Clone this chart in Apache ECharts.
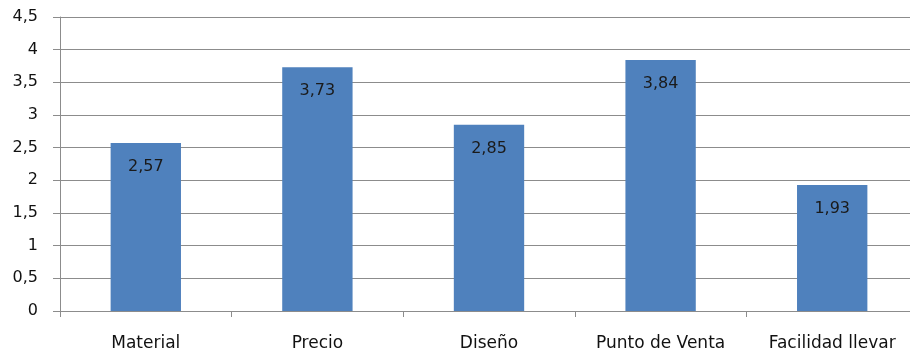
<!DOCTYPE html>
<html>
<head>
<meta charset="utf-8">
<script src="https://cdn.jsdelivr.net/npm/echarts@6/dist/echarts.min.js"></script>
<style>
  html, body { margin: 0; padding: 0; background: #fff; overflow: hidden; width: 910px; height: 358px; }
  /* plot area runs slightly past the right edge of the page */
  #chart { width: 918px; height: 358px; }
</style>
</head>
<body>
<div id="chart"></div>
<script>
// Average rating per purchase factor
const categories = ['Material', 'Precio', 'Diseño', 'Punto de Venta', 'Facilidad llevar'];
const values = [2.57, 3.73, 2.85, 3.84, 1.93];
const yTicks = [0, 0.5, 1, 1.5, 2, 2.5, 3, 3.5, 4, 4.5];

const comma = v => String(v).replace('.', ',');
const gridGray = '#8c8c8c';
const font = '"DejaVu Sans"';

const chart = echarts.init(document.getElementById('chart'), null, { renderer: 'canvas' });
chart.setOption({
  animation: false,
  grid: { left: 60, top: 17, right: 0, bottom: 47, containLabel: false },
  xAxis: {
    type: 'category',
    data: categories,
    axisLine: { lineStyle: { color: gridGray, width: 1 } },
    axisTick: { show: true, length: 6, alignWithLabel: false, lineStyle: { color: gridGray } },
    axisLabel: { color: '#111', fontFamily: font, fontSize: 17, margin: 24 }
  },
  yAxis: {
    type: 'value',
    min: yTicks[0],
    max: yTicks[yTicks.length - 1],
    interval: 0.5,
    axisLine: { show: true, lineStyle: { color: gridGray, width: 1 } },
    axisTick: { show: true, length: 7, lineStyle: { color: gridGray } },
    splitLine: { lineStyle: { color: gridGray, width: 1 } },
    axisLabel: { color: '#111', fontFamily: font, fontSize: 16, margin: 22, formatter: v => comma(v) }
  },
  series: [{
    type: 'bar',
    data: values,
    barWidth: '41%',
    itemStyle: { color: '#4f81bd' },
    label: {
      show: true,
      position: 'insideTop',
      distance: 16,
      color: '#1a1a1a',
      fontFamily: font,
      fontSize: 16,
      formatter: p => comma(p.value)
    }
  }]
});
</script>
</body>
</html>
